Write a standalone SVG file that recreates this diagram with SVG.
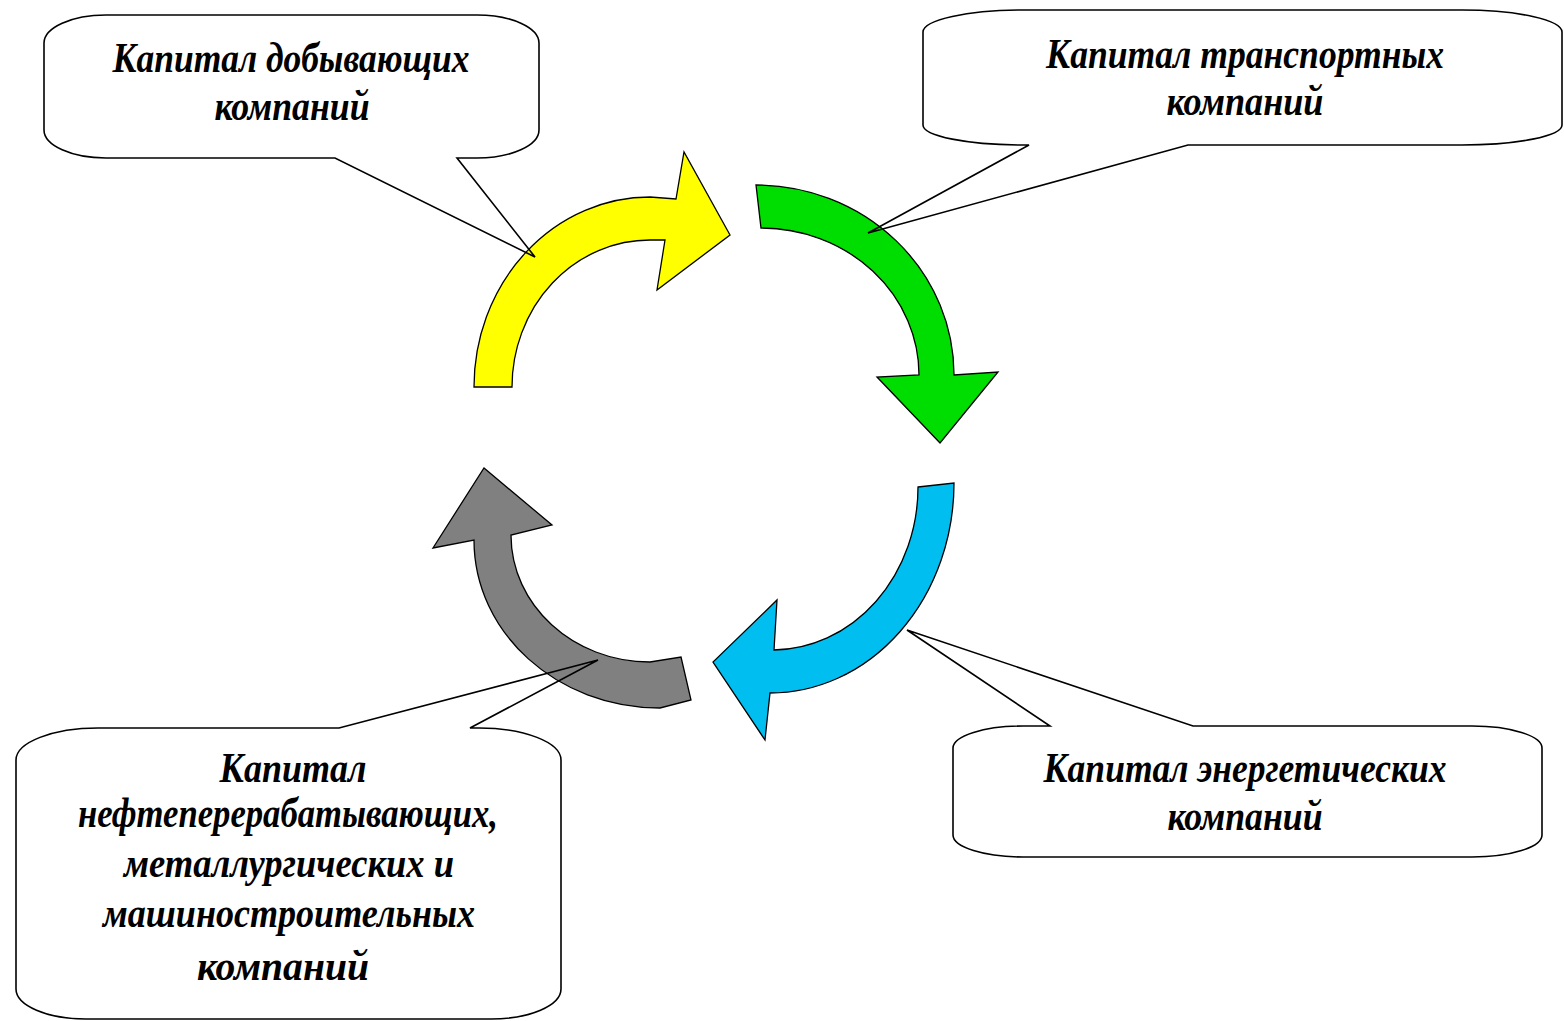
<svg xmlns="http://www.w3.org/2000/svg" width="1564" height="1021" viewBox="0 0 1564 1021">
<style>
.arrow{stroke:#000;stroke-width:1.3;stroke-linejoin:miter}
.callout{fill:none;stroke:#000;stroke-width:1.6;stroke-linejoin:miter}
.lbl{font-family:"Liberation Serif","Times New Roman",serif;font-weight:bold;font-style:italic;font-size:42px;fill:#000;text-anchor:middle}
</style>
<rect x="0" y="0" width="1564" height="1021" fill="#fff"/>
<g id="connectors">
<path id="arrow-yellow" class="arrow" fill="#ffff00" d="M 474,387 A 176,190 0 0 1 650,197 L 676,199 L 684,152 L 730,235 L 657,290 L 665,240 L 650,240 A 138,147 0 0 0 512,387 Z"/>
<path id="arrow-green" class="arrow" fill="#00dd00" d="M 756,185 A 198,190 0 0 1 954,375 L 998,372 L 940,443 L 877,377 L 919,375 A 158,147 0 0 0 761,228 Z"/>
<path id="arrow-blue" class="arrow" fill="#00bff0" d="M 918,487 L 954,483 A 184,210 0 0 1 770,693 L 765,740 L 713,662 L 777,600 L 774,650 A 146,163 0 0 0 918,487 Z"/>
<path id="arrow-gray" class="arrow" fill="#808080" d="M 681,657 L 691,700 L 660,708 C 557,708 474,633 474,540 L 433,548 L 484,468 L 552,525 L 511,535 C 511,605 573,662 650,662 Z"/>
</g>
<g id="node-mining">
<path class="callout" d="M 106,15 L 477,15 A 62,28 0 0 1 539,43 L 539,130 A 62,28 0 0 1 477,158 L 457,158 L 535,257 L 335,158 L 106,158 A 62,28 0 0 1 44,130 L 44,43 A 62,28 0 0 1 106,15 Z"/>
<text class="lbl" x="291" y="72" textLength="357" lengthAdjust="spacingAndGlyphs">Капитал добывающих</text>
<text class="lbl" x="292" y="120" textLength="155" lengthAdjust="spacingAndGlyphs">компаний</text>
</g>
<g id="node-transport">
<path class="callout" d="M 1023,10 L 1462,10 A 100,22 0 0 1 1562,32 L 1562,125 A 100,20 0 0 1 1462,145 L 1188,145 L 868,233 L 1029,145 L 1023,145 A 100,20 0 0 1 923,125 L 923,32 A 100,22 0 0 1 1023,10 Z"/>
<text class="lbl" x="1245" y="68" textLength="398" lengthAdjust="spacingAndGlyphs">Капитал транспортных</text>
<text class="lbl" x="1245" y="115" textLength="157" lengthAdjust="spacingAndGlyphs">компаний</text>
</g>
<g id="node-energy">
<path class="callout" d="M 1023,726 L 1050,726 L 907,630 L 1193,726 L 1472,726 A 70,22 0 0 1 1542,748 L 1542,835 A 70,22 0 0 1 1472,857 L 1023,857 A 70,22 0 0 1 953,835 L 953,748 A 70,22 0 0 1 1023,726 Z"/>
<text class="lbl" x="1245" y="782" textLength="403" lengthAdjust="spacingAndGlyphs">Капитал энергетических</text>
<text class="lbl" x="1245" y="830" textLength="155" lengthAdjust="spacingAndGlyphs">компаний</text>
</g>
<g id="node-processing">
<path class="callout" d="M 98,728 L 339,728 L 598,660 L 470,728 L 479,728 A 82,32 0 0 1 561,760 L 561,989 A 70,30 0 0 1 491,1019 L 86,1019 A 70,30 0 0 1 16,989 L 16,760 A 82,32 0 0 1 98,728 Z"/>
<text class="lbl" x="293" y="782" textLength="147" lengthAdjust="spacingAndGlyphs">Капитал</text>
<text class="lbl" x="288" y="827" textLength="420" lengthAdjust="spacingAndGlyphs">нефтеперерабатывающих,</text>
<text class="lbl" x="289" y="877" textLength="330" lengthAdjust="spacingAndGlyphs">металлургических и</text>
<text class="lbl" x="289" y="927" textLength="372" lengthAdjust="spacingAndGlyphs">машиностроительных</text>
<text class="lbl" x="283" y="980" textLength="172" lengthAdjust="spacingAndGlyphs">компаний</text>
</g>
</svg>
